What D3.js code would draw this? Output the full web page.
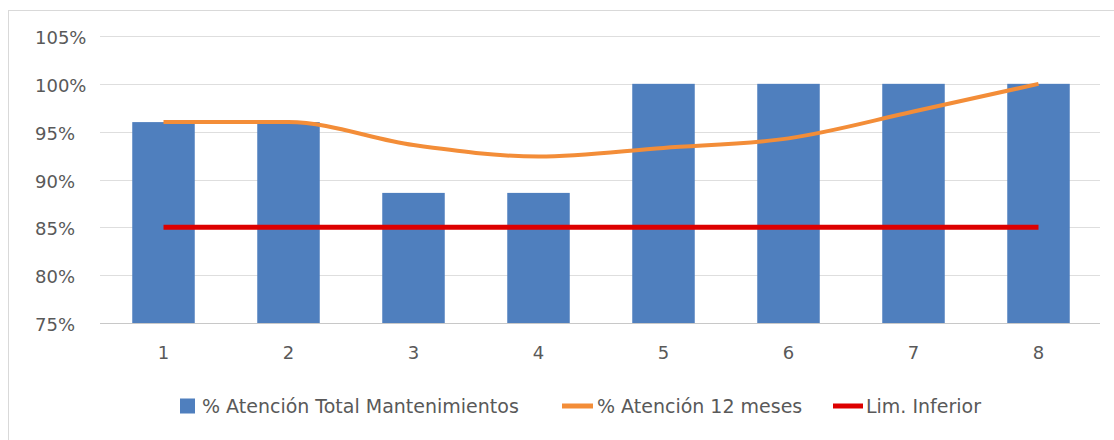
<!DOCTYPE html>
<html>
<head>
<meta charset="utf-8">
<script src="https://cdn.jsdelivr.net/npm/d3@7"></script>
<style>
  html, body { margin: 0; padding: 0; background: #ffffff; }
  svg { display: block; }
  text { font-family: "DejaVu Sans", sans-serif; fill: #595959; }
</style>
</head>
<body>
<svg id="chart" width="1114" height="440"></svg>
<script>
// Periods on the x axis
const categories = ["1", "2", "3", "4", "5", "6", "7", "8"];
// % Atención Total Mantenimientos (bars)
const atencionTotal = [96, 96, 88.6, 88.6, 100, 100, 100, 100];
// % Atención 12 meses (smoothed line)
const atencion12 = [96, 96, 93.6, 92.4, 93.3, 94.3, 97.1, 100];
// Lim. Inferior (flat reference line)
const limInferior = [85, 85, 85, 85, 85, 85, 85, 85];
// Y axis ticks
const yTicks = [75, 80, 85, 90, 95, 100, 105];
const seriesNames = ["% Atención Total Mantenimientos", "% Atención 12 meses", "Lim. Inferior"];

const colors = { bar: "#4f7fbe", avg: "#f38d38", lim: "#dd0000" };

const svg = d3.select("#chart");

// Chart area frame
svg.append("rect")
  .attr("x", 8.5).attr("y", 10.5)
  .attr("width", 1110).attr("height", 440)
  .attr("fill", "#ffffff")
  .attr("stroke", "#d9d9d9");

const x = d3.scaleBand()
  .domain(categories)
  .range([101, 1101])
  .paddingInner(0.5)
  .paddingOuter(0.25);

const y = d3.scaleLinear()
  .domain([75, 105])
  .range([323, 36]);

// Horizontal gridlines
svg.append("g")
  .selectAll("line")
  .data(yTicks)
  .join("line")
  .attr("x1", 100).attr("x2", 1100)
  .attr("y1", d => Math.round(y(d)) + 0.5)
  .attr("y2", d => Math.round(y(d)) + 0.5)
  .attr("stroke", d => d === 75 ? "#c8c8c8" : "#dedede")
  .attr("stroke-width", 1.2);

// Y tick labels
svg.append("g")
  .selectAll("text")
  .data(yTicks)
  .join("text")
  .attr("x", 35)
  .attr("y", d => y(d))
  .attr("dy", "0.45em")
  .attr("font-size", 18)
  .text(d => d + "%");

// Bars
svg.append("g")
  .selectAll("rect")
  .data(atencionTotal)
  .join("rect")
  .attr("x", (d, i) => x(categories[i]))
  .attr("y", d => y(d))
  .attr("width", x.bandwidth())
  .attr("height", d => y(75) - y(d))
  .attr("fill", colors.bar);

// X tick labels
svg.append("g")
  .selectAll("text")
  .data(categories)
  .join("text")
  .attr("x", d => x(d) + x.bandwidth() / 2)
  .attr("y", 359)
  .attr("text-anchor", "middle")
  .attr("font-size", 18)
  .text(d => d);

const cx = (d, i) => x(categories[i]) + x.bandwidth() / 2;

// Lower limit line
svg.append("path")
  .datum(limInferior)
  .attr("fill", "none")
  .attr("stroke", colors.lim)
  .attr("stroke-width", 5)
  .attr("d", d3.line().x(cx).y(d => y(d)));

// 12-month line, smoothed
svg.append("path")
  .datum(atencion12)
  .attr("fill", "none")
  .attr("stroke", colors.avg)
  .attr("stroke-width", 4)
  .attr("stroke-linejoin", "round")
  .attr("d", d3.line().x(cx).y(d => y(d)).curve(d3.curveMonotoneX));

// Legend
const legend = svg.append("g").attr("font-size", 19);
const ly = 406;

legend.append("rect")
  .attr("x", 180).attr("y", ly - 7.5)
  .attr("width", 15).attr("height", 15)
  .attr("fill", colors.bar);
legend.append("text")
  .attr("x", 202).attr("y", ly).attr("dy", "0.36em")
  .text(seriesNames[0]);

legend.append("line")
  .attr("x1", 562).attr("x2", 593)
  .attr("y1", ly).attr("y2", ly)
  .attr("stroke", colors.avg).attr("stroke-width", 5);
legend.append("text")
  .attr("x", 597).attr("y", ly).attr("dy", "0.36em")
  .text(seriesNames[1]);

legend.append("line")
  .attr("x1", 833).attr("x2", 863)
  .attr("y1", ly).attr("y2", ly)
  .attr("stroke", colors.lim).attr("stroke-width", 5);
legend.append("text")
  .attr("x", 866).attr("y", ly).attr("dy", "0.36em")
  .text(seriesNames[2]);
</script>
</body>
</html>
